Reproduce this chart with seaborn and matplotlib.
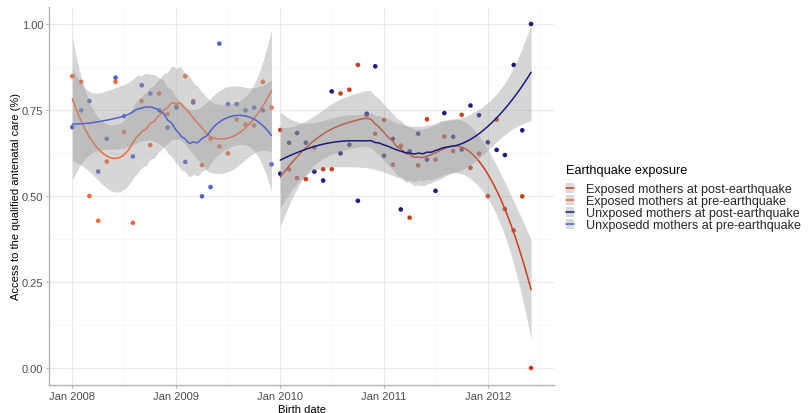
import numpy as np
import pandas as pd
import matplotlib
matplotlib.use("Agg")
import matplotlib.pyplot as plt
import matplotlib.dates as mdates
from matplotlib.patches import Rectangle
from matplotlib.lines import Line2D
from matplotlib.ticker import FixedLocator, FuncFormatter
import seaborn as sns

# ---------------- data ----------------
group_names = ["Exposed mothers at post-earthquake",
               "Exposed mothers at pre-earthquake",
               "Unxposed mothers at post-earthquake",
               "Unxposedd mothers at pre-earthquake"]
group_colors = ["#C8401E", "#F4693C", "#1B1B7C", "#5263C9"]

pre_dates = pd.date_range("2008-01-01", periods=24, freq="MS")
post_dates = pd.date_range("2010-01-01", periods=30, freq="MS")

pre_exposed = [0.848, 0.832, 0.500, 0.428, 0.600, 0.832, 0.686, 0.422, 0.776, 0.648,
               0.798, 0.738, 0.762, 0.848, 0.776, 0.590, 0.666, 0.644, 0.624, 0.722,
               0.708, 0.705, 0.832, 0.757]
pre_unexposed = [0.700, 0.749, 0.776, 0.571, 0.666, 0.844, 0.732, 0.615, 0.822, 0.798,
                 0.749, 0.699, 0.757, 0.599, 0.772, 0.499, 0.526, 0.943, 0.767, 0.767,
                 0.749, 0.757, 0.749, 0.592]
post_exposed = [0.692, 0.577, 0.552, 0.549, 0.641, 0.578, 0.578, 0.798, 0.809, 0.881,
                0.735, 0.681, 0.721, 0.591, 0.646, 0.437, 0.589, 0.723, 0.606, 0.673,
                0.631, 0.736, 0.582, 0.623, 0.500, 0.722, 0.462, 0.400, 0.499, 0.000]
post_unexposed = [0.565, 0.655, 0.683, 0.655, 0.571, 0.545, 0.804, 0.624, 0.649, 0.486,
                  0.739, 0.877, 0.617, 0.666, 0.461, 0.630, 0.681, 0.606, 0.515, 0.741,
                  0.672, 0.635, 0.763, 0.735, 0.656, 0.634, 0.619, 0.881, 0.691, 1.000]

group_dates = [post_dates, pre_dates, post_dates, pre_dates]
group_values = [post_exposed, pre_exposed, post_unexposed, pre_unexposed]
group_spans = [0.75, 0.7, 0.75, 0.7]

x_tick_dates = pd.to_datetime(["2008-01-01", "2009-01-01", "2010-01-01", "2011-01-01", "2012-01-01"])
x_minor_dates = pd.to_datetime(["2008-07-01", "2009-07-01", "2010-07-01", "2011-07-01", "2012-07-01"])
y_ticks = [0.0, 0.25, 0.5, 0.75, 1.0]
y_minor = [0.125, 0.375, 0.625, 0.875]

df = pd.concat([pd.DataFrame({"date": d, "value": v, "group": g})
                for d, v, g in zip(group_dates, group_values, group_names)],
               ignore_index=True)


# ---------------- loess (local quadratic, tricube) ----------------
def loess_weights(x, x0, span, degree=2):
    n = len(x)
    q = int(np.floor(n * span))
    d = np.abs(x - x0)
    h = np.sort(d)[q - 1]
    u = np.clip(d / h, 0, 1)
    w = (1 - u ** 3) ** 3
    X = np.vander(x - x0, degree + 1, increasing=True)
    XtW = X.T * w
    A = np.linalg.solve(XtW @ X, XtW)
    return A[0]


def loess_fit(x, y, xs, span):
    x = np.asarray(x, float)
    y = np.asarray(y, float)
    n = len(x)
    L = np.array([loess_weights(x, xi, span) for xi in x])
    IL = np.eye(n) - L
    R = IL.T @ IL
    d1 = np.trace(R)
    d2 = np.trace(R @ R)
    s = np.sqrt(np.sum((IL @ y) ** 2) / d1)
    df_ = d1 ** 2 / d2
    z = 1.959964
    t = z + (z ** 3 + z) / (4 * df_) + (5 * z ** 5 + 16 * z ** 3 + 3 * z) / (96 * df_ ** 2)
    lx = np.array([loess_weights(x, xi, span) for xi in xs])
    fit = lx @ y
    se = s * np.sqrt(np.sum(lx ** 2, axis=1))
    return fit, fit - t * se, fit + t * se


# ---------------- plot ----------------
sns.set_theme(style="white")
plt.rcParams["font.family"] = ["Liberation Sans", "DejaVu Sans"]

fig = plt.figure(figsize=(8.08, 4.14), dpi=100)
ax = fig.add_axes([49.4 / 808, 1 - 386.2 / 414, (554 - 49.4) / 808, (386.2 - 7.8) / 414])

sns.scatterplot(data=df, x="date", y="value", hue="group", hue_order=group_names,
                palette=group_colors, s=11, linewidth=0, legend=False, ax=ax, zorder=2)

z = 3
for dates, vals, col, span in zip(group_dates, group_values, group_colors, group_spans):
    xn = mdates.date2num(dates)
    xs = np.linspace(xn.min(), xn.max(), 120)
    fit, lo, hi = loess_fit(xn, vals, xs, span)
    xs_d = mdates.num2date(xs)
    ax.fill_between(xs_d, lo, hi, color="#999999", alpha=0.4, linewidth=0, zorder=z)
    sd = pd.DataFrame({"date": pd.to_datetime(xs, unit="D", origin="unix"), "fit": fit})
    sns.lineplot(data=sd, x="date", y="fit", color=col, linewidth=1.1, ax=ax,
                 estimator=None, sort=False, zorder=z + 1)
    z += 2

# limits (5% expansion, like ggplot)
xnum_all = mdates.date2num(pd.concat([pd.Series(pre_dates), pd.Series(post_dates)]))
xr = xnum_all.max() - xnum_all.min()
ax.set_xlim(xnum_all.min() - 0.05 * xr, xnum_all.max() + 0.05 * xr)
ax.set_ylim(-0.05, 1.05)

ax.xaxis.set_major_locator(FixedLocator(mdates.date2num(x_tick_dates)))
ax.xaxis.set_minor_locator(FixedLocator(mdates.date2num(x_minor_dates)))
ax.xaxis.set_major_formatter(mdates.DateFormatter("%b %Y"))
ax.yaxis.set_major_locator(FixedLocator(y_ticks))
ax.yaxis.set_minor_locator(FixedLocator(y_minor))
ax.yaxis.set_major_formatter(FuncFormatter(lambda v, p: f"{v:.2f}"))

ax.grid(which="major", color="#EBEBEB", linewidth=0.8, zorder=0)
ax.grid(which="minor", color="#F5F5F5", linewidth=0.5, zorder=0)
ax.set_axisbelow(True)
for sp in ["top", "right"]:
    ax.spines[sp].set_visible(False)
for sp in ["left", "bottom"]:
    ax.spines[sp].set_color("#B3B3B3")
    ax.spines[sp].set_linewidth(1.0)
ax.tick_params(which="major", length=2.5, width=0.8, color="#B3B3B3",
               labelcolor="#4D4D4D", labelsize=8, pad=2, bottom=True, left=True)
ax.tick_params(which="minor", length=0)

ax.set_xlabel("Birth date", fontsize=8, color="black", labelpad=2)
ax.set_ylabel("Access to the qualified antenatal care (%)", fontsize=8, color="black", labelpad=0.5)

fig.text(566 / 808, 1 - 171 / 414, "Earthquake exposure", fontsize=9.2,
         ha="left", va="center", color="black")
handles = [(Rectangle((0, 0), 1, 1, facecolor="#D9D9D9", edgecolor="none"),
            Line2D([0], [0], color=c, linewidth=1.1)) for c in group_colors]
leg = fig.legend(handles, group_names, loc="upper left",
                 bbox_to_anchor=(566 / 808, 1 - 184 / 414), frameon=False,
                 fontsize=9, handlelength=0.65, handleheight=0.85,
                 labelspacing=-0.02, handletextpad=0.95, borderpad=0, borderaxespad=0)

fig.savefig("out.png", dpi=100)
